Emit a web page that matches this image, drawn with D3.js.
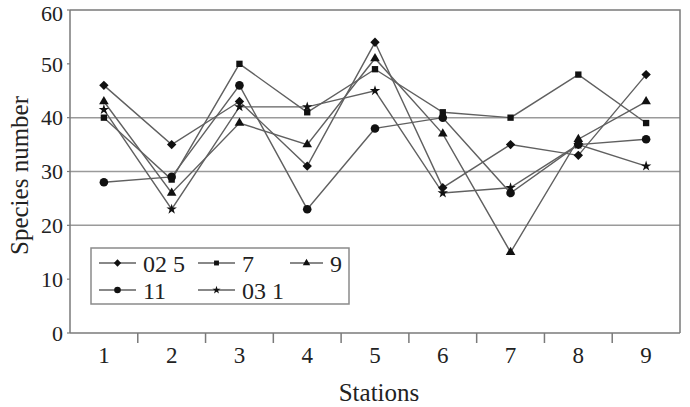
<!DOCTYPE html>
<html>
<head>
<meta charset="utf-8">
<script src="https://cdn.jsdelivr.net/npm/d3@7/dist/d3.min.js"></script>
<style>
  html, body { margin: 0; padding: 0; background: #fff; }
  svg { display: block; }
  text { font-family: "Liberation Serif", "DejaVu Serif", serif; fill: #222; }
</style>
</head>
<body>
<svg id="chart" width="690" height="407"></svg>
<script>
const stations = ["1", "2", "3", "4", "5", "6", "7", "8", "9"];
const yTicks = [0, 10, 20, 30, 40, 50, 60];
const gridValues = [20, 30, 40];
const seriesNames = ["02 5", "7", "9", "11", "03 1"];
const s025 = [46, 35, 43, 31, 54, 27, 35, 33, 48];
const s7 = [40, 28.5, 50, 41, 49, 41, 40, 48, 39];
const s9 = [43, 26, 39, 35, 51, 37, 15, 36, 43];
const s11 = [28, 29, 46, 23, 38, 40, 26, 35, 36];
const s031 = [41.5, 23, 42, 42, 45, 26, 27, 35, 31];

const seriesValues = [s025, s7, s9, s11, s031];
const symbolTypes = ["diamond", "square", "triangle", "circle", "star"];

const svg = d3.select("#chart");
const pLeft = 70, pRight = 680, pTop = 10, pBottom = 333;

const x = d3.scaleBand().domain(stations).range([pLeft, pRight]).padding(0);
const y = d3.scaleLinear().domain([0, 60]).range([pBottom, pTop]);

function symbolPath(type, big) {
  const k = big ? 1 : 0.6;
  switch (type) {
    case "diamond": return d3.symbol(d3.symbolSquare, 44 * k)();
    case "square": return d3.symbol(d3.symbolSquare, 40 * k)();
    case "triangle": return d3.symbol(d3.symbolTriangle, 40 * k)();
    case "circle": return d3.symbol(d3.symbolCircle, 58 * k)();
    case "star": return d3.symbol(d3.symbolStar, 34 * k)();
  }
}
function symbolRot(type) { return type === "diamond" ? " rotate(45)" : ""; }

// grid lines
svg.append("g").selectAll("line").data(gridValues).join("line")
  .attr("x1", pLeft).attr("x2", pRight)
  .attr("y1", d => y(d)).attr("y2", d => y(d))
  .attr("stroke", "#9a9a9a").attr("stroke-width", 1.5);

// plot box (top and right)
svg.append("path")
  .attr("d", `M${pLeft},${pTop}H${pRight}V${pBottom}`)
  .attr("fill", "none").attr("stroke", "#7a7a7a").attr("stroke-width", 1.5);

// x axis
const xAxis = svg.append("g").attr("transform", `translate(0,${pBottom})`);
xAxis.append("line").attr("x1", pLeft).attr("x2", pRight)
  .attr("stroke", "#7a7a7a").attr("stroke-width", 1.5);
const boundaries = stations.slice(1).map(s => x(s));
xAxis.selectAll("line.tick").data(boundaries).join("line").attr("class", "tick")
  .attr("x1", d => d).attr("x2", d => d).attr("y1", 0).attr("y2", 10)
  .attr("stroke", "#7a7a7a").attr("stroke-width", 1.5);
xAxis.selectAll("text").data(stations).join("text")
  .attr("x", d => x(d) + x.bandwidth() / 2).attr("y", 22).attr("dy", "0.35em")
  .attr("text-anchor", "middle").attr("font-size", 23).text(d => d);

// y axis
const yAxis = svg.append("g");
yAxis.append("line").attr("x1", pLeft).attr("x2", pLeft).attr("y1", pTop).attr("y2", pBottom)
  .attr("stroke", "#7a7a7a").attr("stroke-width", 1.5);
yAxis.selectAll("line.tick").data(yTicks).join("line").attr("class", "tick")
  .attr("x1", pLeft - 3).attr("x2", pLeft).attr("y1", d => y(d)).attr("y2", d => y(d))
  .attr("stroke", "#7a7a7a").attr("stroke-width", 1.2);
yAxis.selectAll("text").data(yTicks).join("text")
  .attr("x", 63).attr("y", d => y(d) + (d === 60 ? 3 : 0)).attr("dy", "0.35em")
  .attr("text-anchor", "end").attr("font-size", 22).text(d => d);

// axis titles
svg.append("text").attr("x", 379).attr("y", 392).attr("dy", "0.35em")
  .attr("text-anchor", "middle").attr("font-size", 25).text("Stations");
svg.append("text").attr("transform", `translate(19,${(pTop + pBottom) / 2 + 4}) rotate(-90)`)
  .attr("dy", "0.35em").attr("text-anchor", "middle").attr("font-size", 25)
  .text("Species number");

// series
const line = d3.line().x((d, i) => x(stations[i]) + x.bandwidth() / 2).y(d => y(d));
seriesValues.forEach((vals, si) => {
  svg.append("path").attr("d", line(vals)).attr("fill", "none")
    .attr("stroke", "#606060").attr("stroke-width", 1.4);
});
seriesValues.forEach((vals, si) => {
  svg.append("g").selectAll("path").data(vals).join("path")
    .attr("d", symbolPath(symbolTypes[si], true))
    .attr("transform", (d, i) => `translate(${x(stations[i]) + x.bandwidth() / 2},${y(d)})` + symbolRot(symbolTypes[si]))
    .attr("fill", "#111");
});

// legend
const legend = svg.append("g");
legend.append("rect").attr("x", 91).attr("y", 248).attr("width", 258).attr("height", 56)
  .attr("fill", "#fff").attr("stroke", "#8a8a8a").attr("stroke-width", 1.5);
const legCols = [[99, 136, 143], [198, 235, 242], [290, 323, 330]];
const legRows = [263, 290];
seriesNames.forEach((name, si) => {
  const col = legCols[si % 3], rowY = legRows[Math.floor(si / 3)];
  legend.append("line").attr("x1", col[0]).attr("x2", col[1]).attr("y1", rowY).attr("y2", rowY)
    .attr("stroke", "#606060").attr("stroke-width", 1.4);
  legend.append("path").attr("d", symbolPath(symbolTypes[si], false))
    .attr("transform", `translate(${(col[0] + col[1]) / 2},${rowY})` + symbolRot(symbolTypes[si]))
    .attr("fill", "#111");
  legend.append("text").attr("x", col[2]).attr("y", rowY + 1).attr("dy", "0.35em")
    .attr("font-size", 24).text(name);
});
</script>
</body>
</html>
